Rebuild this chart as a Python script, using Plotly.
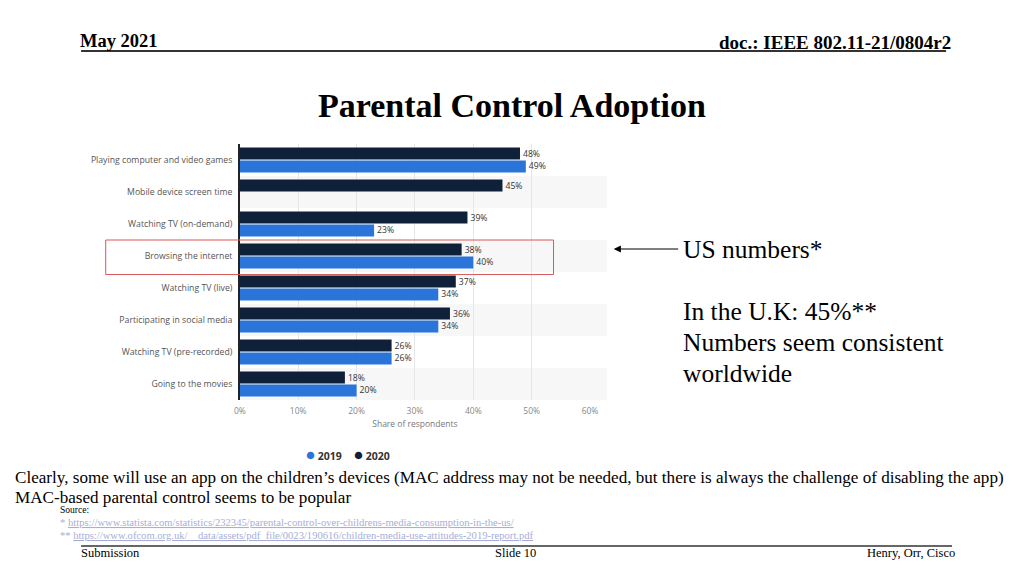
import plotly.graph_objects as go

categories = [
    "Playing computer and video games",
    "Mobile device screen time",
    "Watching TV (on-demand)",
    "Browsing the internet",
    "Watching TV (live)",
    "Participating in social media",
    "Watching TV (pre-recorded)",
    "Going to the movies",
]
values_2020 = [48, 45, 39, 38, 37, 36, 26, 18]
values_2019 = [49, None, 23, 40, 34, 34, 26, 20]
x_ticks = [0, 10, 20, 30, 40, 50, 60]
x_tick_labels = ["0%", "10%", "20%", "30%", "40%", "50%", "60%"]

W, H = 1024, 576
OX, OY = 7, 7  # page offset of the figure in the browser
def px(x):
    return (x - OX) / W
def py(y):
    return 1 - (y - OY) / H

DARK = "#0f2139"
BLUE = "#2a74da"
SANS = "Open Sans, Lato, sans-serif"
SERIF = "Liberation Serif, Times New Roman, serif"

fig = go.Figure()
fig.add_trace(go.Bar(
    y=categories, x=values_2020, orientation="h", name="2020",
    marker=dict(color=DARK, line=dict(width=0)),
    text=[f"{v}%" for v in values_2020], textposition="outside",
    textfont=dict(size=8.7, color="#333", family=SANS),
    cliponaxis=False, showlegend=False,
))
fig.add_trace(go.Bar(
    y=categories, x=values_2019, orientation="h", name="2019",
    marker=dict(color=BLUE, line=dict(width=0)),
    text=[f"{v}%" if v is not None else "" for v in values_2019], textposition="outside",
    textfont=dict(size=8.7, color="#333", family=SANS),
    cliponaxis=False, showlegend=False,
))

shapes = []
# alternating row bands
for i in range(len(categories)):
    if i % 2 == 1:
        shapes.append(dict(type="rect", xref="paper", yref="y",
                           x0=px(236), x1=px(608), y0=i - 0.5, y1=i + 0.5,
                           fillcolor="#f7f7f7", line=dict(width=0), layer="below"))
# highlight rectangle around Browsing the internet
hi = categories.index("Browsing the internet")
shapes.append(dict(type="rect", xref="paper", yref="y",
                   x0=px(100), x1=px(554), y0=hi - 0.5, y1=hi + 0.58,
                   line=dict(color="#d9585a", width=1)))
# header and footer lines
shapes.append(dict(type="line", xref="paper", yref="paper",
                   x0=px(75), x1=px(952), y0=py(50), y1=py(50),
                   line=dict(color="#333", width=1.8)))
shapes.append(dict(type="line", xref="paper", yref="paper",
                   x0=px(75), x1=px(958), y0=py(545), y1=py(545),
                   line=dict(color="#333", width=1.5)))

annotations = []
def txt(x, y, s, size, anchor="left", bold=False, color="black", family=SERIF, yanchor="middle"):
    if bold:
        s = f"<b>{s}</b>"
    annotations.append(dict(x=px(x), y=py(y), xref="paper", yref="paper", text=s,
                            showarrow=False, xanchor=anchor, yanchor=yanchor,
                            borderpad=0,
                            font=dict(size=size, color=color, family=family)))

txt(73, 40, "May 2021", 18.5, bold=True)
txt(958, 42, "doc.: IEEE 802.11-21/0804r2", 19, anchor="right", bold=True)
txt(512, 104, "Parental Control Adoption", 34, anchor="center", bold=True)
txt(684, 248, "US numbers*", 25.5)
txt(684, 310, "In the U.K: 45%**", 25.5)
txt(684, 341, "Numbers seem consistent", 25.5)
txt(684, 372, "worldwide", 25.5)
txt(7, 476, "Clearly, some will use an app on the children’s devices (MAC address may not be needed, but there is always the challenge of disabling the app)", 17.1)
txt(7, 496, "MAC-based parental control seems to be popular", 17.1)
txt(53, 509, "Source:", 9.5)
txt(53, 521, "* <u>https://www.statista.com/statistics/232345/parental-control-over-childrens-media-consumption-in-the-us/</u>", 10.6, color="#a8aed6")
txt(53, 534, "** <u>https://www.ofcom.org.uk/__data/assets/pdf_file/0023/190616/children-media-use-attitudes-2019-report.pdf</u>", 10.6, color="#a8aed6")
txt(74, 552, "Submission", 12.5)
txt(515, 552, "Slide 10", 12.5, anchor="center")
txt(962, 552, "Henry, Orr, Cisco", 12.5, anchor="right")

# legend (drawn as text entries)
txt(302, 453, f"<span style='color:{BLUE};font-size:15px'>●</span> <b>2019</b>", 10.5, color="#333", family=SANS)
txt(351, 453, f"<span style='color:{DARK};font-size:15px'>●</span> <b>2020</b>", 10.5, color="#333", family=SANS)

# arrow
annotations.append(dict(x=px(615), y=py(248), xref="paper", yref="paper",
                        ax=66, ay=0, axref="pixel", ayref="pixel",
                        text="", showarrow=True, arrowhead=2, arrowsize=1.2,
                        arrowwidth=1.2, arrowcolor="black"))

fig.update_layout(
    width=W, height=H,
    margin=dict(l=0, r=0, t=0, b=0),
    paper_bgcolor="white", plot_bgcolor="rgba(0,0,0,0)",
    barmode="group", bargap=0.19, bargroupgap=0.08,
    xaxis=dict(domain=[px(236), px(591)], range=[0, 60], tickvals=x_ticks,
               ticktext=x_tick_labels, showgrid=True, gridcolor="#e6e6e6", gridwidth=1,
               zeroline=False, ticklabelstandoff=4,
               tickfont=dict(size=8.5, color="#888", family=SANS),
               title=dict(text="Share of respondents", font=dict(size=8.5, color="#777", family=SANS), standoff=6),
               fixedrange=True),
    yaxis=dict(domain=[py(399), py(143)], autorange="reversed", showline=True,
               linecolor="#222", linewidth=1.5, ticks="", ticklabelstandoff=4,
               tickfont=dict(size=8.7, color="#555", family=SANS), showgrid=False),
    shapes=shapes, annotations=annotations,
    showlegend=False,
)

fig.write_html("out.html")
